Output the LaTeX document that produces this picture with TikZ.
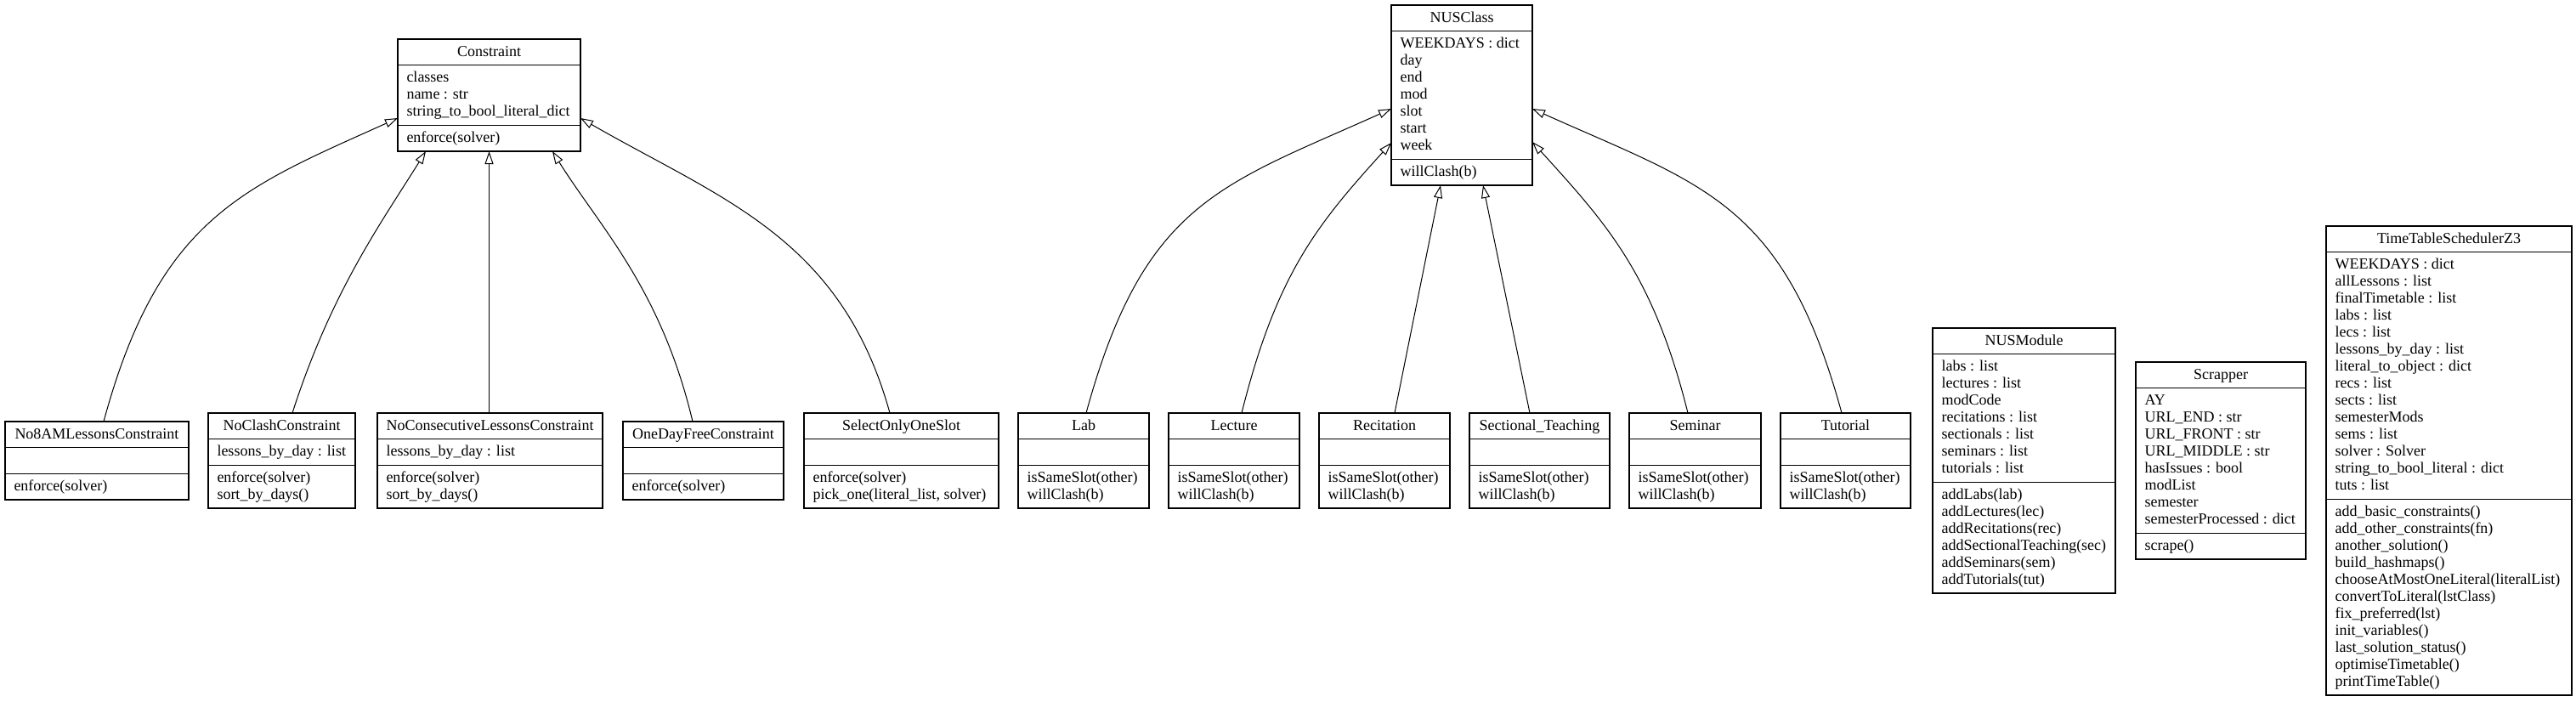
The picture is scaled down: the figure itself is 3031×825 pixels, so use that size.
\documentclass[tikz,border=0pt]{standalone}
\usepackage{fontspec}
\setmainfont{Liberation Serif}
\usetikzlibrary{arrows.meta,calc}
\tikzset{
  classbox/.style={draw, rectangle, line width=1.3pt, inner sep=0pt, outer sep=0pt},
  sepline/.style={line width=1.3pt},
  txt/.style={inner sep=0pt, outer sep=0pt, font=\fontsize{18}{20}\selectfont},
  inh/.style={-{Triangle[open,length=15pt,width=10pt,line width=1pt]}, line width=1pt},
}
% #1 id, #2 x left, #3 x right, #4 y centre, #5 title, #6 no. of attributes, #7 attributes, #8 no. of methods, #9 methods
\newcommand\umlclass[9]{%
  \pgfmathsetmacro\ua{20*max(#6,1)+10.7}%
  \pgfmathsetmacro\um{20*max(#8,1)+10.7}%
  \pgfmathsetmacro\uH{30.7+\ua+\um}%
  \pgfmathsetmacro\uT{#4-\uH/2}%
  \pgfmathsetmacro\uW{#3-#2}%
  \pgfmathsetmacro\uX{(#2+#3)/2}%
  \node[classbox, minimum width=\uW pt, minimum height=\uH pt] (#1) at (\uX,#4) {};
  \draw[sepline] (#2,\uT+30.7) -- (#3,\uT+30.7);
  \draw[sepline] (#2,\uT+30.7+\ua) -- (#3,\uT+30.7+\ua);
  \node[txt, anchor=base] (#1-title) at (\uX,\uT+20.5) {#5};
  \ifnum#6>0
    \foreach \t [count=\i from 0] in {#7} {\node[txt, anchor=base west] (#1-a\i) at (#2+10.5,\uT+30.7+20+20*\i) {\t};}
  \fi
  \ifnum#8>0
    \foreach \t [count=\i from 0] in {#9} {\node[txt, anchor=base west] (#1-m\i) at (#2+10.5,\uT+30.7+\ua+20+20*\i) {\t};}
  \fi
}
\begin{document}
\begin{tikzpicture}[x=1pt,y=-1pt]
\fill[white] (0,0) rectangle (3031,825);
\useasboundingbox (0,0) rectangle (3031,825);

\umlclass{constraint}{468}{683}{112}{Constraint}{3}{{classes},{name : str},{string\_to\_bool\_literal\_dict}}{1}{{enforce(solver)}}
\umlclass{nusclass}{1637}{1803}{112}{NUSClass}{7}{{WEEKDAYS : dict},{day},{end},{mod},{slot},{start},{week}}{1}{{willClash(b)}}

\umlclass{no8am}{6}{222}{542}{No8AMLessonsConstraint}{0}{}{1}{{enforce(solver)}}
\umlclass{noclash}{245}{418}{542}{NoClashConstraint}{1}{{lessons\_by\_day : list}}{2}{{enforce(solver)},{sort\_by\_days()}}
\umlclass{noconsec}{444}{709}{542}{NoConsecutiveLessonsConstraint}{1}{{lessons\_by\_day : list}}{2}{{enforce(solver)},{sort\_by\_days()}}
\umlclass{onedayfree}{733}{922}{542}{OneDayFreeConstraint}{0}{}{1}{{enforce(solver)}}
\umlclass{selectone}{946}{1175}{542}{SelectOnlyOneSlot}{0}{}{2}{{enforce(solver)},{pick\_one(literal\_list, solver)}}

\umlclass{lab}{1198}{1352}{542}{Lab}{0}{}{2}{{isSameSlot(other)},{willClash(b)}}
\umlclass{lecture}{1375}{1529}{542}{Lecture}{0}{}{2}{{isSameSlot(other)},{willClash(b)}}
\umlclass{recitation}{1552}{1706}{542}{Recitation}{0}{}{2}{{isSameSlot(other)},{willClash(b)}}
\umlclass{sectional}{1729}{1894}{542}{Sectional\_Teaching}{0}{}{2}{{isSameSlot(other)},{willClash(b)}}
\umlclass{seminar}{1917}{2072}{542}{Seminar}{0}{}{2}{{isSameSlot(other)},{willClash(b)}}
\umlclass{tutorial}{2095}{2248}{542}{Tutorial}{0}{}{2}{{isSameSlot(other)},{willClash(b)}}

\umlclass{nusmodule}{2274}{2489}{542}{NUSModule}{7}{{labs : list},{lectures : list},{modCode},{recitations : list},{sectionals : list},{seminars : list},{tutorials : list}}{6}{{addLabs(lab)},{addLectures(lec)},{addRecitations(rec)},{addSectionalTeaching(sec)},{addSeminars(sem)},{addTutorials(tut)}}
\umlclass{scrapper}{2513}{2713}{542}{Scrapper}{8}{{AY},{URL\_END : str},{URL\_FRONT : str},{URL\_MIDDLE : str},{hasIssues : bool},{modList},{semester},{semesterProcessed : dict}}{1}{{scrape()}}
\umlclass{scheduler}{2737}{3026}{542}{TimeTableSchedulerZ3}{14}{{WEEKDAYS : dict},{allLessons : list},{finalTimetable : list},{labs : list},{lecs : list},{lessons\_by\_day : list},{literal\_to\_object : dict},{recs : list},{sects : list},{semesterMods},{sems : list},{solver : Solver},{string\_to\_bool\_literal : dict},{tuts : list}}{11}{{add\_basic\_constraints()},{add\_other\_constraints(fn)},{another\_solution()},{build\_hashmaps()},{chooseAtMostOneLiteral(literalList)},{convertToLiteral(lstClass)},{fix\_preferred(lst)},{init\_variables()},{last\_solution\_status()},{optimiseTimetable()},{printTimeTable()}}

% inheritance towards Constraint
\draw[inh] ($(no8am.north)+(8,0)$) .. controls (187,256) and (286,221) .. ($(constraint.west)+(0,27)$);
\draw[inh] ($(noclash.north)+(12.5,0)$) .. controls (390,343) and (448,263) .. ($(constraint.south)+(-74.5,0)$);
\draw[inh] (noconsec.north -| constraint.south) -- (constraint.south);
\draw[inh] ($(onedayfree.north)+(-12.5,0)$) .. controls (778,340) and (705,266) .. ($(constraint.south)+(74.5,0)$);
\draw[inh] ($(selectone.north)+(-13.5,0)$) .. controls (990,280) and (850,235) .. ($(constraint.east)+(0,27)$);

% inheritance towards NUSClass
\draw[inh] ($(lab.north)+(3,0)$) .. controls (1346,237) and (1437,218) .. ($(nusclass.west)+(0,16)$);
\draw[inh] ($(lecture.north)+(9,0)$) .. controls (1502,322) and (1550,264) .. ($(nusclass.west)+(0,56)$);
\draw[inh] ($(recitation.north)+(12,0)$) -- ($(nusclass.south)+(-25,0)$);
\draw[inh] ($(sectional.north)+(-11.5,0)$) -- ($(nusclass.south)+(25,0)$);
\draw[inh] ($(seminar.north)+(-8.5,0)$) .. controls (1945,322) and (1890,263) .. ($(nusclass.east)+(0,55)$);
\draw[inh] ($(tutorial.north)+(-4.5,0)$) .. controls (2099,237) and (2003,218) .. ($(nusclass.east)+(0,16)$);
\end{tikzpicture}
\end{document}
